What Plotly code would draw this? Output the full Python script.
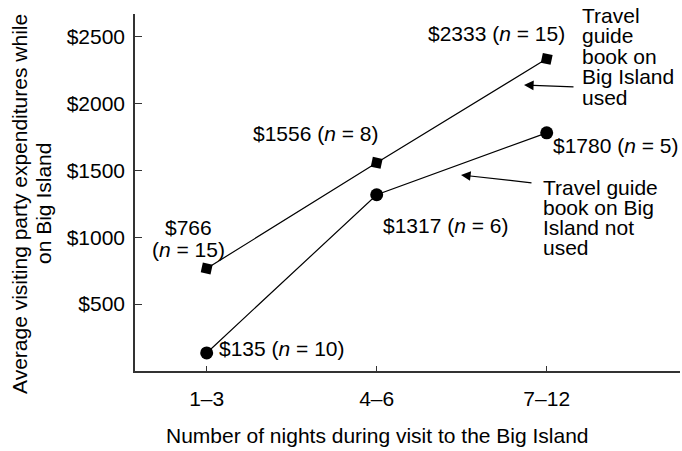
import plotly.graph_objects as go

categories = ["1–3", "4–6", "7–12"]
used_values = [766, 1556, 2333]
used_n = [15, 8, 15]
notused_values = [135, 1317, 1780]
notused_n = [10, 6, 5]
y_ticks = [500, 1000, 1500, 2000, 2500]
y_ticklabels = ["$500", "$1000", "$1500", "$2000", "$2500"]
used_label_lines = ["Travel", "guide", "book on", "Big Island", "used"]
notused_label_lines = ["Travel guide", "book on Big", "Island not", "used"]
y_title_lines = ["Average visiting party expenditures while", "on Big Island"]
x_title = "Number of nights during visit to the Big Island"

FONT = "Liberation Sans, Arial, sans-serif"
FS = 21
W, H = 682, 451
ML, MR, MT, MB = 135, 2, 14, 80
XR = [-0.4216, 2.784]
YR = [0, 2668]


def pt(xp, yp):
    """convert a pixel position to data coords (annotation placement only)"""
    pw = W - ML - MR
    ph = H - MT - MB
    x = XR[0] + (xp - ML) / pw * (XR[1] - XR[0])
    y = YR[0] + (H - MB - yp) / ph * (YR[1] - YR[0])
    return x, y


xi = list(range(len(categories)))

fig = go.Figure()
fig.add_trace(go.Scatter(
    x=xi, y=used_values, mode="lines+markers",
    line=dict(color="black", width=1.2),
    marker=dict(symbol="square", size=10, color="black", angle=12),
    showlegend=False, hoverinfo="skip"))
fig.add_trace(go.Scatter(
    x=xi, y=notused_values, mode="lines+markers",
    line=dict(color="black", width=1.2),
    marker=dict(symbol="circle", size=13, color="black"),
    showlegend=False, hoverinfo="skip"))


def lab(v, n):
    return f"${v} (<i>n</i> = {n})"


anns = []


def text(xp, yp, t, xanchor="center", angle=0):
    x, y = pt(xp, yp)
    anns.append(dict(x=x, y=y, xref="x", yref="y", text=t, showarrow=False,
                     xanchor=xanchor, yanchor="middle", textangle=angle,
                     borderpad=0,
                     font=dict(family=FONT, size=FS, color="black")))


# point labels
text(188, 227, f"${used_values[0]}")
text(188, 249, f"(<i>n</i> = {used_n[0]})")
text(252, 133, lab(used_values[1], used_n[1]), xanchor="left")
text(427, 33, lab(used_values[2], used_n[2]), xanchor="left")
text(218, 348, lab(notused_values[0], notused_n[0]), xanchor="left")
text(382, 225, lab(notused_values[1], notused_n[1]), xanchor="left")
text(552, 145, lab(notused_values[2], notused_n[2]), xanchor="left")

# series labels (tight leading as in the reference)
for i, s in enumerate(used_label_lines):
    text(581, 15 + 20.5 * i, s, xanchor="left")
for i, s in enumerate(notused_label_lines):
    text(542, 187 + 20 * i, s, xanchor="left")

# arrows
for (tx, ty, hx, hy) in [(575, 87, 524, 85), (533, 183, 461, 175)]:
    ax, ay = pt(tx, ty)
    x, y = pt(hx, hy)
    anns.append(dict(x=x, y=y, ax=ax, ay=ay, xref="x", yref="y", axref="x", ayref="y",
                     text="", showarrow=True, arrowhead=2, arrowsize=1.6,
                     arrowwidth=1.2, arrowcolor="black"))

# axis titles
for xp, s in zip([19, 43], y_title_lines):
    anns.append(dict(x=(xp - ML) / (W - ML - MR), y=(H - MB - 204) / (H - MT - MB),
                     xref="paper", yref="paper", showarrow=False, textangle=-90,
                     text=s, xanchor="center", yanchor="middle",
                     font=dict(family=FONT, size=FS, color="black")))
anns.append(dict(x=(377 - ML) / (W - ML - MR), y=-(435 - (H - MB)) / (H - MT - MB),
                 xref="paper", yref="paper", showarrow=False, text=x_title,
                 xanchor="center", yanchor="middle",
                 font=dict(family=FONT, size=FS, color="black")))

fig.update_layout(
    width=W, height=H, margin=dict(l=ML, r=MR, t=MT, b=MB),
    plot_bgcolor="white", paper_bgcolor="white",
    font=dict(family=FONT, size=FS, color="black"),
    annotations=anns,
    xaxis=dict(range=XR, tickmode="array", tickvals=xi, ticktext=categories,
               showgrid=False, zeroline=False, showline=True, linecolor="#333",
               linewidth=1.5, ticks="inside", ticklen=5, tickcolor="#333",
               tickwidth=1, ticklabelstandoff=8),
    yaxis=dict(range=YR, tickmode="array", tickvals=y_ticks, ticktext=y_ticklabels,
               showgrid=False, zeroline=False, showline=True, linecolor="#333",
               linewidth=1.5, ticks="inside", ticklen=7, tickcolor="#333",
               tickwidth=1, ticklabelstandoff=4),
)

fig.write_html("out.html", config={"displayModeBar": False},
               post_script="document.body.style.margin='0';document.body.style.padding='0';")
